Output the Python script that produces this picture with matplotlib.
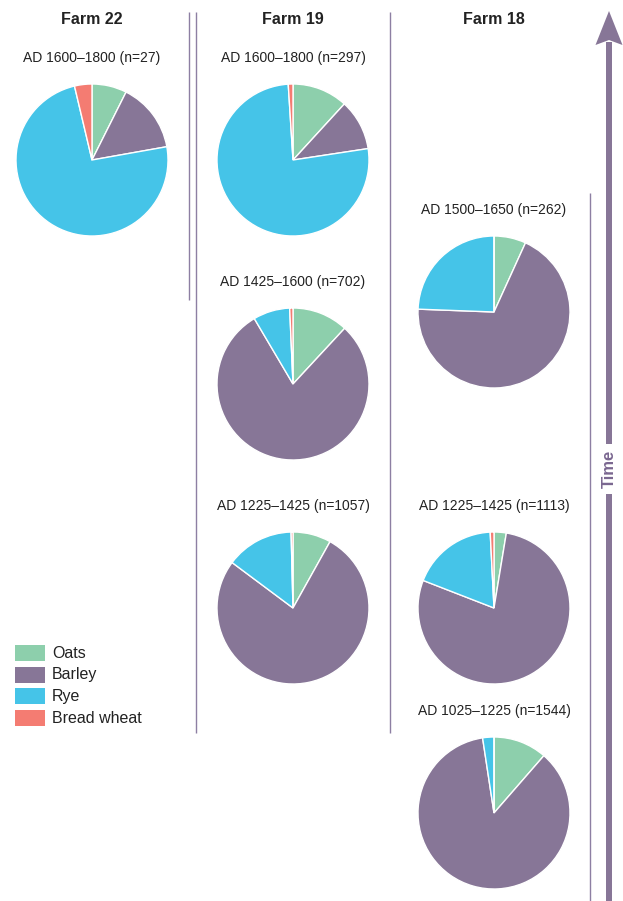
import matplotlib
matplotlib.use('Agg')
import matplotlib.pyplot as plt
from matplotlib.patches import Rectangle, Polygon

plt.rcParams['font.family'] = ['Liberation Sans', 'DejaVu Sans']

CROPS = ['Oats', 'Barley', 'Rye', 'Bread wheat']
COLORS = ['#8dcfac', '#877697', '#45c4e8', '#f47c72']

FARMS = ['Farm 22', 'Farm 19', 'Farm 18']

# per-sample shares (%) in order Oats, Barley, Rye, Bread wheat
F22_1600 = [7.4, 14.8, 74.1, 3.7]
F19_1600 = [11.8, 10.8, 76.4, 1.0]
F19_1425 = [11.9, 79.6, 7.8, 0.7]
F19_1225 = [8.1, 77.1, 14.4, 0.4]
F18_1500 = [6.8, 68.8, 24.4, 0.0]
F18_1225 = [2.6, 78.3, 18.3, 0.8]
F18_1025 = [11.4, 86.2, 2.4, 0.0]

SAMPLES = [
    ('Farm 22', 'AD 1600–1800 (n=27)', F22_1600),
    ('Farm 19', 'AD 1600–1800 (n=297)', F19_1600),
    ('Farm 19', 'AD 1425–1600 (n=702)', F19_1425),
    ('Farm 19', 'AD 1225–1425 (n=1057)', F19_1225),
    ('Farm 18', 'AD 1500–1650 (n=262)', F18_1500),
    ('Farm 18', 'AD 1225–1425 (n=1113)', F18_1225),
    ('Farm 18', 'AD 1025–1225 (n=1544)', F18_1025),
]

W, H = 623, 901
COL_X = {'Farm 22': 92, 'Farm 19': 293, 'Farm 18': 494}
# pie centre y (pixels from top) for each sample, same order as SAMPLES
PIE_Y = [160, 160, 384, 608, 312, 608, 813]
RADIUS = 76
LINE_COL = '#8d7fa3'
ARROW_COL = '#877697'


def main():
    fig = plt.figure(figsize=(W / 100, H / 100), dpi=100)
    ax = fig.add_axes([0, 0, 1, 1])

    for (farm, label, shares), py in zip(SAMPLES, PIE_Y):
        cx, cy = COL_X[farm], H - py
        ax.pie(shares, colors=COLORS, startangle=90, counterclock=False,
               center=(cx, cy), radius=RADIUS,
               wedgeprops=dict(edgecolor='white', linewidth=1))
        ax.text(cx, cy + RADIUS + 26, label, ha='center', va='center',
                fontsize=10, color='#222222')

    ax.set_xlim(0, W)
    ax.set_ylim(0, H)
    ax.set_aspect('auto')
    ax.axis('off')

    for farm in FARMS:
        ax.text(COL_X[farm], H - 19, farm, ha='center', va='center',
                fontsize=11.5, fontweight='bold', color='#222222')

    # column separators
    for x, y0, y1 in [(188.5, 12, 300), (195.5, 12, 733),
                      (390, 12, 733), (590, 193, 901)]:
        ax.plot([x, x], [H - y0, H - y1], color=LINE_COL, lw=1.0,
                solid_capstyle='butt')

    # time arrow
    ax.add_patch(Rectangle((606, 0), 6, H - 42, color=ARROW_COL, lw=0))
    ax.add_patch(Polygon([(609, H - 11), (622.5, H - 45), (609, H - 40),
                          (595.5, H - 45)], closed=True, color=ARROW_COL, lw=0))
    ax.text(609, H - 469, 'Time', rotation=90, ha='center', va='center',
            fontsize=12, fontweight='bold', color='#7a6790',
            bbox=dict(facecolor='white', edgecolor='none', pad=4))

    # legend
    for i, (crop, col) in enumerate(zip(CROPS, COLORS)):
        top = 645 + i * 21.7
        ax.add_patch(Rectangle((15, H - top - 16), 30, 16, color=col, lw=0))
        ax.text(52, H - top - 8, crop, ha='left', va='center',
                fontsize=11.5, color='#222222')

    fig.savefig('out.png', dpi=100)


if __name__ == '__main__':
    main()
